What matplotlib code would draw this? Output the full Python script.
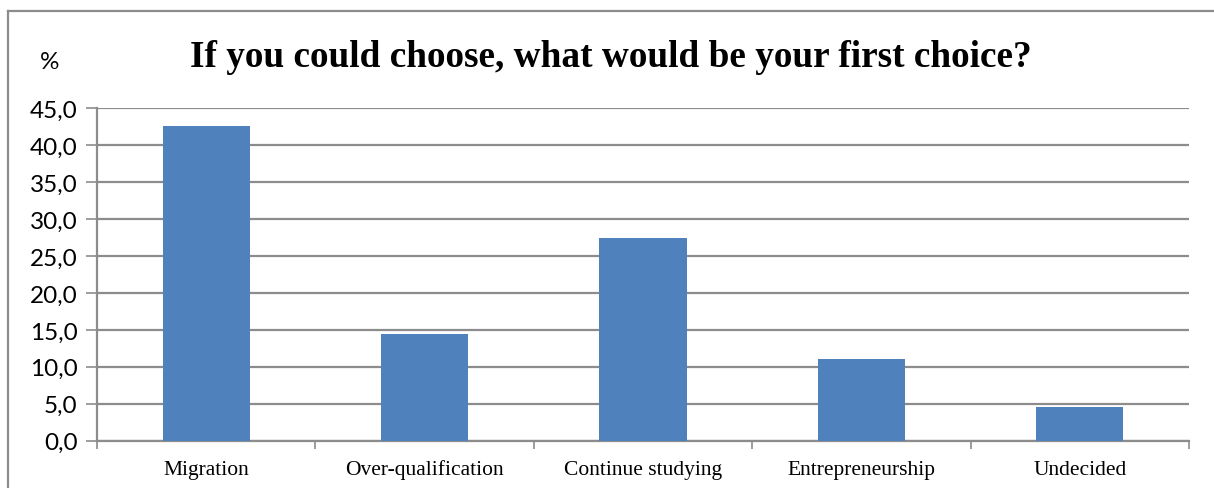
import numpy as np
import matplotlib.pyplot as plt
from matplotlib.lines import Line2D

categories = ["Migration", "Over-qualification", "Continue studying", "Entrepreneurship", "Undecided"]
percent = [42.6, 14.4, 27.4, 11.0, 4.5]
yticks = [0, 5, 10, 15, 20, 25, 30, 35, 40, 45]

bar_color = "#4f81bd"
grid_color = "#8c8c8c"

fig = plt.figure(figsize=(12.14, 4.89), dpi=100)
ax = fig.add_axes([0.0799, 0.0967, 0.8995, 0.6798])

x = np.arange(len(categories))
ax.bar(x, percent, width=0.4, color=bar_color, zorder=3)

ax.set_xlim(-0.5, len(categories) - 0.5)
ax.set_ylim(0, 45)
ax.set_yticks(yticks)
ax.set_yticklabels([f"{v:.1f}".replace(".", ",") for v in yticks],
                   fontsize=17.5, family="Lato")
ax.yaxis.grid(True, color=grid_color, linewidth=1.6, zorder=0)

ax.set_xticks(x)
ax.set_xticklabels(categories, fontsize=15.5, family="Liberation Serif")
for lbl in ax.get_xticklabels():
    lbl.set_verticalalignment("baseline")
ax.set_xticks(np.arange(-0.5, len(categories)), minor=True)
ax.tick_params(axis="x", which="major", length=0, pad=24)
ax.tick_params(axis="x", which="minor", length=6, color=grid_color, width=1.2)
ax.tick_params(axis="y", length=8, color=grid_color, width=1.2, pad=6)

for side in ["top", "right"]:
    ax.spines[side].set_visible(False)
for side in ["left", "bottom"]:
    ax.spines[side].set_color(grid_color)
    ax.spines[side].set_linewidth(1.6)

fig.text(0.503, 0.882, "If you could choose, what would be your first choice?",
         ha="center", va="center", fontsize=26.8, fontweight="bold",
         family="Liberation Serif")
fig.text(0.041, 0.872, "%", ha="center", va="center", fontsize=17.5, family="Lato")

# frame around the chart
fig.add_artist(Line2D([8 / 1214, 8 / 1214], [0, 1 - 12 / 489],
                      transform=fig.transFigure, color=grid_color, linewidth=1.6))
fig.add_artist(Line2D([8 / 1214, 1], [1 - 12 / 489, 1 - 12 / 489],
                      transform=fig.transFigure, color=grid_color, linewidth=1.6))

fig.savefig("out.png", dpi=100)
